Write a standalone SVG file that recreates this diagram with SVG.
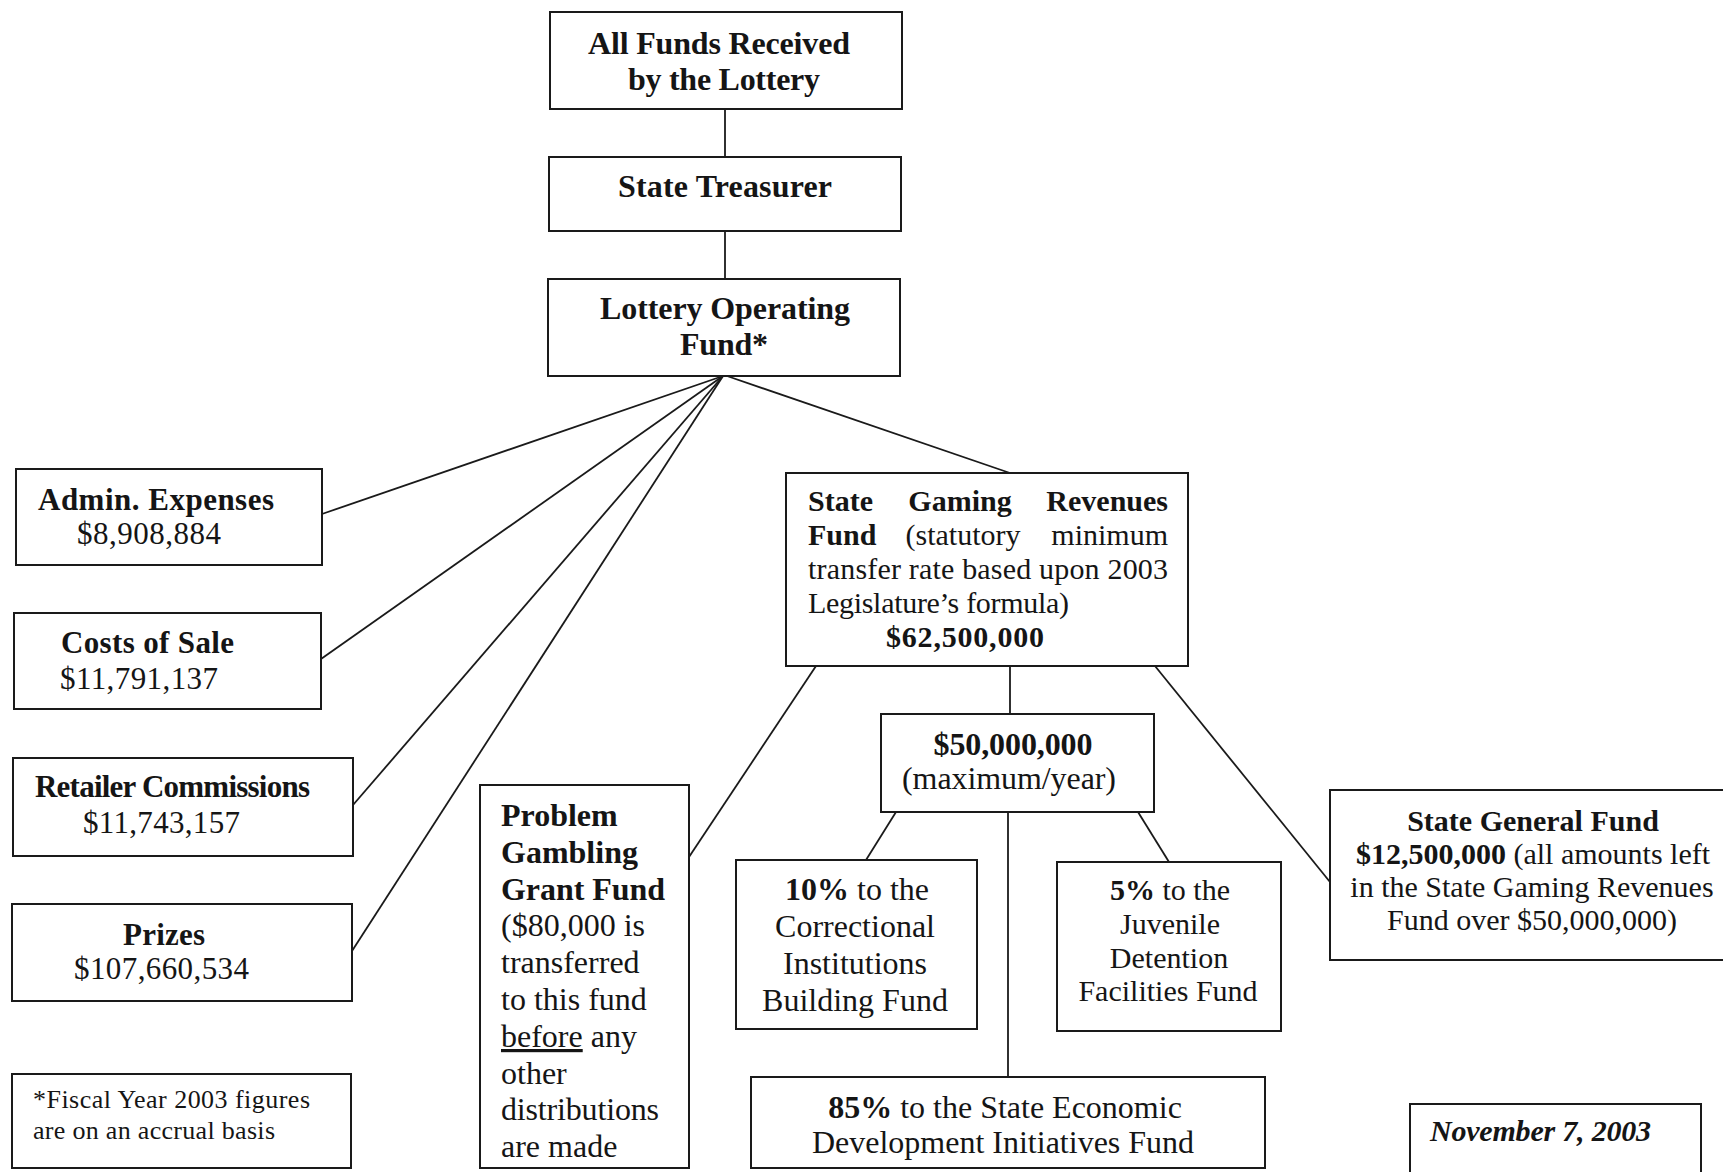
<svg xmlns="http://www.w3.org/2000/svg" width="1723" height="1172" viewBox="0 0 1723 1172">
<style>
.box{fill:#fff;stroke:#1a1a1a;stroke-width:2}
.ln{stroke:#1a1a1a;stroke-width:1.8;fill:none}
text{font-family:"Liberation Serif","Times New Roman",serif;fill:#151515}
.b{font-weight:bold}
.c{text-anchor:middle}
.e{text-anchor:end}
.f32{font-size:32px}
.f31{font-size:31px}
.f30{font-size:30px}
.f26{font-size:26px}
</style>
<rect width="1723" height="1172" fill="#fff"/>
<g id="connectors">
<line class="ln" x1="725" y1="109" x2="725" y2="157"/>
<line class="ln" x1="725" y1="231" x2="725" y2="279"/>
<line class="ln" x1="723" y1="376" x2="322" y2="514"/>
<line class="ln" x1="723" y1="376" x2="321" y2="659"/>
<line class="ln" x1="723" y1="376" x2="353" y2="805"/>
<line class="ln" x1="723" y1="376" x2="352" y2="951"/>
<line class="ln" x1="727" y1="376" x2="1010" y2="473"/>
<line class="ln" x1="816" y1="666" x2="689" y2="857"/>
<line class="ln" x1="1010" y1="666" x2="1010" y2="714"/>
<line class="ln" x1="1155" y1="666" x2="1330" y2="882"/>
<line class="ln" x1="896" y1="812" x2="866" y2="860"/>
<line class="ln" x1="1008" y1="812" x2="1008" y2="1077"/>
<line class="ln" x1="1138" y1="812" x2="1169" y2="862"/>
</g>
<g id="all-funds">
<rect class="box" x="550" y="12" width="352" height="97"/>
<text class="b f32 c" x="719" y="54" textLength="262">All Funds Received</text>
<text class="b f32 c" x="724" y="90" textLength="192">by the Lottery</text>
</g>
<g id="state-treasurer">
<rect class="box" x="549" y="157" width="352" height="74"/>
<text class="b f32 c" x="725" y="197" textLength="214">State Treasurer</text>
</g>
<g id="lottery-operating-fund">
<rect class="box" x="548" y="279" width="352" height="97"/>
<text class="b f32 c" x="725" y="319" textLength="250">Lottery Operating</text>
<text class="b f32 c" x="724" y="355" textLength="88">Fund*</text>
</g>
<g id="admin-expenses">
<rect class="box" x="16" y="469" width="306" height="96"/>
<text class="b f31 c" x="156" y="510" textLength="236">Admin. Expenses</text>
<text class="f31 c" x="149" y="544" textLength="144">$8,908,884</text>
</g>
<g id="costs-of-sale">
<rect class="box" x="14" y="613" width="307" height="96"/>
<text class="b f31 c" x="147.5" y="653" textLength="173">Costs of Sale</text>
<text class="f31 c" x="139" y="689" textLength="158">$11,791,137</text>
</g>
<g id="retailer-commissions">
<rect class="box" x="13" y="758" width="340" height="98"/>
<text class="b f31 c" x="172.5" y="797" textLength="275">Retailer Commissions</text>
<text class="f31 c" x="161.5" y="833" textLength="157">$11,743,157</text>
</g>
<g id="prizes">
<rect class="box" x="12" y="904" width="340" height="97"/>
<text class="b f31 c" x="164" y="945" textLength="82">Prizes</text>
<text class="f31 c" x="161.5" y="979" textLength="175">$107,660,534</text>
</g>
<g id="footnote">
<rect class="box" x="12" y="1074" width="339" height="94"/>
<text class="f26" x="33" y="1108" textLength="277">*Fiscal Year 2003 figures</text>
<text class="f26" x="33" y="1139" textLength="242">are on an accrual basis</text>
</g>
<g id="state-gaming-revenues-fund">
<rect class="box" x="786" y="473" width="402" height="193"/>
<text class="b f30" x="808" y="511">State</text>
<text class="b f30 c" x="960" y="511">Gaming</text>
<text class="b f30 e" x="1168" y="511">Revenues</text>
<text class="b f30" x="808" y="545">Fund</text>
<text class="f30 c" x="963" y="545">(statutory</text>
<text class="f30 e" x="1168" y="545">minimum</text>
<text class="f30" x="808" y="579" textLength="360">transfer rate based upon 2003</text>
<text class="f30" x="808" y="613" textLength="261">Legislature’s formula)</text>
<text class="b f30 c" x="965" y="647" textLength="158">$62,500,000</text>
</g>
<g id="fifty-million">
<rect class="box" x="881" y="714" width="273" height="98"/>
<text class="b f32 c" x="1013" y="755" textLength="159">$50,000,000</text>
<text class="f32 c" x="1009" y="789" textLength="214">(maximum/year)</text>
</g>
<g id="problem-gambling-grant-fund">
<rect class="box" x="480" y="785" width="209" height="383"/>
<text class="b f32" x="501" y="826">Problem</text>
<text class="b f32" x="501" y="863">Gambling</text>
<text class="b f32" x="501" y="900" textLength="164">Grant Fund</text>
<text class="f32" x="501" y="936">($80,000 is</text>
<text class="f32" x="501" y="973">transferred</text>
<text class="f32" x="501" y="1010">to this fund</text>
<text class="f32" x="501" y="1047"><tspan text-decoration="underline">before</tspan> any</text>
<text class="f32" x="501" y="1084">other</text>
<text class="f32" x="501" y="1120" textLength="158">distributions</text>
<text class="f32" x="501" y="1157">are made</text>
</g>
<g id="correctional-institutions">
<rect class="box" x="736" y="860" width="241" height="169"/>
<text class="f32 c" x="857" y="900"><tspan class="b">10%</tspan> to the</text>
<text class="f32 c" x="855" y="937">Correctional</text>
<text class="f32 c" x="855" y="974">Institutions</text>
<text class="f32 c" x="855" y="1011">Building Fund</text>
</g>
<g id="juvenile-detention">
<rect class="box" x="1057" y="862" width="224" height="169"/>
<text class="f30 c" x="1170" y="900"><tspan class="b">5%</tspan> to the</text>
<text class="f30 c" x="1170" y="934">Juvenile</text>
<text class="f30 c" x="1169" y="968">Detention</text>
<text class="f30 c" x="1168" y="1001">Facilities Fund</text>
</g>
<g id="economic-development">
<rect class="box" x="751" y="1077" width="514" height="91"/>
<text class="f32 c" x="1005" y="1118"><tspan class="b">85%</tspan> to the State Economic</text>
<text class="f32 c" x="1003" y="1153">Development Initiatives Fund</text>
</g>
<g id="state-general-fund">
<rect class="box" x="1330" y="790" width="400" height="170"/>
<text class="b f30 c" x="1533" y="831">State General Fund</text>
<text class="f30 c" x="1533" y="864"><tspan class="b">$12,500,000</tspan> (all amounts left</text>
<text class="f30 c" x="1532" y="897">in the State Gaming Revenues</text>
<text class="f30 c" x="1532" y="930">Fund over $50,000,000)</text>
</g>
<g id="date">
<rect class="box" x="1410" y="1104" width="291" height="80"/>
<text class="b f30" x="1430" y="1141" font-style="italic" textLength="221">November 7, 2003</text>
</g>
</svg>
